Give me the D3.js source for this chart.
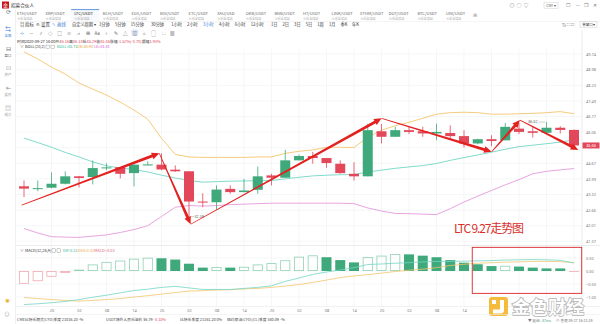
<!DOCTYPE html>
<html><head><meta charset="utf-8">
<script src="https://cdn.jsdelivr.net/npm/d3@7"></script>
<style>
html,body{margin:0;padding:0;background:#fff;overflow:hidden}
svg{display:block;font-family:"Noto Sans CJK SC","Noto Sans",sans-serif}
</style></head><body>
<svg id="chart" width="600" height="324"></svg>
<script>
// ---- LTC/USDT 3h candles, 2020-09-22 14:00 .. 2020-09-27 14:00 ----
const hours = ["14","17","20","23","02","05","08","11","14","17","20","23","02","05","08","11",
  "14","17","20","23","02","05","08","11","14","17","20","23","02","05","08","11",
  "14","17","20","23","02","05","08","11","14"];
const open  = [43.67,43.55,43.61,43.78,44.10,44.07,44.46,44.50,44.24,44.60,44.61,44.39,44.32,43.02,42.99,43.56,
  43.42,43.52,44.14,44.04,44.80,44.99,44.90,44.65,44.21,44.10,46.10,45.85,46.15,46.10,46.00,46.02,
  45.88,45.55,45.74,45.69,46.22,46.10,46.03,46.26,46.16];
const high  = [43.92,43.92,44.27,44.32,44.12,44.80,44.67,44.50,44.62,44.76,45.11,44.58,44.32,43.37,43.71,43.71,
  43.99,44.53,44.21,45.27,45.05,45.17,44.90,44.80,44.72,46.45,46.43,46.30,46.30,46.30,46.45,46.37,
  46.15,45.76,45.92,46.48,46.47,46.30,46.52,46.33,46.18];
const low   = [43.21,43.46,43.58,43.75,43.62,43.75,44.36,44.01,43.67,44.58,44.36,44.29,42.39,42.78,42.67,43.35,
  43.42,43.35,43.71,44.04,44.80,44.65,44.47,44.21,43.92,44.10,45.55,45.85,45.97,45.85,45.69,45.72,
  45.37,45.51,45.42,45.69,45.97,45.81,46.00,46.00,45.29];
const close = [43.57,43.59,43.78,44.10,44.03,44.46,44.49,44.21,44.61,44.62,44.40,44.32,43.02,42.98,43.53,43.42,
  43.49,44.10,44.04,44.80,44.99,44.90,44.68,44.24,44.10,46.15,45.85,46.15,46.07,46.00,46.07,45.88,
  45.55,45.74,45.66,46.30,46.07,46.03,46.26,46.16,45.46];

// BOLL(20,2)
const bollUp  = [49.84,49.50,49.10,48.77,48.34,48.05,47.77,47.44,47.07,46.65,45.78,45.06,44.95,44.93,44.93,44.93,
  44.93,44.95,44.95,45.11,45.20,45.26,45.38,45.38,45.37,45.83,46.15,46.35,46.51,46.69,46.88,46.95,
  46.97,46.95,46.88,46.88,46.90,46.92,46.95,47.00,46.90];
const bollMid = [45.79,45.59,45.38,45.15,44.95,44.73,44.56,44.46,44.40,44.29,44.15,44.03,43.92,43.85,43.87,43.89,
  43.90,43.91,43.92,43.99,44.06,44.12,44.15,44.17,44.18,44.29,44.37,44.45,44.51,44.57,44.66,44.80,
  44.92,45.04,45.16,45.29,45.41,45.47,45.54,45.61,45.71];
const bollLow = [41.89,41.71,41.56,41.54,41.53,41.58,41.63,41.73,41.85,42.01,42.39,42.78,42.85,42.83,42.85,42.89,
  42.91,42.93,42.95,42.95,42.95,42.95,42.95,42.95,42.93,42.75,42.62,42.52,42.51,42.49,42.47,42.72,
  43.00,43.25,43.49,43.73,43.96,44.21,44.32,44.38,44.44];

// MACD(12,26,9)
const dif  = [-1.29,-1.26,-1.22,-1.17,-1.10,-1.01,-0.93,-0.84,-0.75,-0.70,-0.63,-0.59,-0.65,-0.71,-0.71,-0.71,
  -0.67,-0.63,-0.57,-0.40,-0.27,-0.13,-0.04,0.04,0.13,0.25,0.27,0.30,0.32,0.35,0.37,0.37,
  0.38,0.39,0.40,0.42,0.43,0.44,0.43,0.41,0.31];
const dea  = [-1.02,-1.06,-1.10,-1.13,-1.16,-1.13,-1.10,-1.06,-1.00,-0.95,-0.89,-0.83,-0.77,-0.76,-0.73,-0.72,
  -0.69,-0.67,-0.63,-0.58,-0.52,-0.44,-0.35,-0.25,-0.19,-0.14,-0.08,-0.02,0.03,0.07,0.13,0.21,
  0.26,0.30,0.32,0.34,0.35,0.37,0.37,0.36,0.32];
const macdHist = [-0.49,-0.39,-0.22,-0.07,0.05,0.25,0.35,0.40,0.47,0.51,0.49,0.44,0.28,0.13,0.15,0.13,
  0.16,0.25,0.30,0.41,0.55,0.60,0.53,0.42,0.33,0.53,0.59,0.65,0.64,0.59,0.53,0.42,
  0.32,0.26,0.19,0.20,0.17,0.13,0.10,0.10,-0.03];

const priceTicks = [49.74,48.98,48.23,47.49,46.77,46.06,45.36,44.67,43.99,43.32,42.66,42.01,41.37];
const macdTicks = [0.50,0.00,-0.50,-1.00];
// time labels every second candle; the last few sit under the watermark
const timeTickIdx = [2,4,6,8,10,12,14,16,18,20,22,24,26,28,30,32];

// hand-drawn trend arrows: [candle index, price]
const trendPoints = [[-0.17,42.87],[9.84,45.11],[12.12,42.07],[26.01,46.69],[34.01,45.18],[36.07,46.61],[40.31,45.26]];
// highlighted MACD region: candle index range and MACD value range
const boxRange = {i0:32.6, i1:40.56, v0:0.91, v1:-0.86};

const tabs = ["ETH/USDT","XRP/USDT","LTC/USDT","BCH/USDT","EOS/USDT","BSV/USDT","ETC/USDT","XAU/USD","OKB/USDT","BNB/USDT",
  "HT/USDT","LINK/USDT","ETHM/USDT","DOT/USDT","BTC/USDT","UNI/USDT"];
const periods = ["1分钟","5分钟","15分钟","30分钟","1小时","2小时","3小时","4小时","6小时","12小时","1日","2日","3日","5日","1周","1月","季K","年K"];
const activePeriod = "3小时";

// ---- colours ----
const UP = "#3fa97b", DOWN = "#e2475a", RED = "#e3211f";
const C_MID = "#72d6c4", C_UP = "#f4c56f", C_LOW = "#e49ade";

const svg = d3.select("#chart");
const L = 16, R = 582, MAIN_T = 49, MAIN_B = 245, MACD_B = 306;

const x = d3.scaleLinear().domain([0, 40]).range([24, 574]);
const y = d3.scaleLog().domain([41.37, 49.74]).range([241.3, 54]);
const ym = d3.scaleLinear().domain([-1, 1]).range([297, 245]);

function txt(g, px, py, s, size, fill, anchor) {
  return g.append("text").attr("x", px).attr("y", py).text(s)
    .attr("font-size", size).attr("fill", fill || "#333").attr("text-anchor", anchor || "start");
}

// ---- window chrome ----
const topBar = svg.append("g");
topBar.append("rect").attr("x", 2).attr("y", 1.5).attr("width", 7).attr("height", 7).attr("fill", "#c8161d");
txt(topBar, 5.5, 7, "金", 5, "#fff", "middle");
txt(topBar, 11, 7, "招募合伙人", 4.6, "#333");
[["◎",512],["○",519],["♡",526]].forEach(d => txt(topBar, d[1], 7, d[0], 5, "#888", "middle"));
topBar.append("rect").attr("x", 544).attr("y", 2.2).attr("width", 14).attr("height", 6).attr("fill", "none").attr("stroke", "#ccc").attr("stroke-width", 0.5);
txt(topBar, 551, 6.8, "CNY ▾", 3.6, "#555", "middle");
[["☐",568],["—",578],["❐",586],["✕",595]].forEach(d => txt(topBar, d[1], 7, d[0], 5, "#777", "middle"));

// tabs
const tabG = svg.append("g");
tabs.forEach((t, k) => {
  const tx = 17 + k * 28.6;
  const active = t === "LTC/USDT";
  if (active) {
    tabG.append("rect").attr("x", tx - 3).attr("y", 9.3).attr("width", 28).attr("height", 12).attr("fill", "#f7f9fc");
    tabG.append("line").attr("x1", tx - 3).attr("x2", tx + 25).attr("y1", 9.6).attr("y2", 9.6).attr("stroke", "#3a7bd5").attr("stroke-width", 0.8);
  }
  txt(tabG, tx, 15, t, 4.1, active ? "#222" : "#666");
  txt(tabG, tx, 19.5, "火币全球站", 3.1, "#aaa");
});
txt(tabG, 475, 16.5, "⊞", 5, "#999", "middle");
svg.append("line").attr("x1", 16).attr("x2", 600).attr("y1", 21.5).attr("y2", 21.5).attr("stroke", "#eee").attr("stroke-width", 0.6);

// period toolbar
const bar = svg.append("g");
txt(bar, 20, 25.5, "目", 4.4, "#555");
txt(bar, 25, 25.5, "指标", 4.4, "#333");
txt(bar, 36, 25.5, "⚙", 4.4, "#555");
txt(bar, 41, 25.5, "设置", 4.4, "#333");
txt(bar, 52, 25.5, "✎", 4.4, "#3a7bd5");
txt(bar, 57, 25.5, "画线", 4.4, "#3a7bd5");
txt(bar, 72, 25.5, "自定义周期 ▾", 4.2, "#333");
let px = 99;
periods.forEach(p => {
  const w = p.length * 4.3 + 3;
  txt(bar, px, 25.5, p, 4.2, p === activePeriod ? "#3a7bd5" : "#333");
  px += w;
});
txt(bar, 562, 25.5, "⇅  ⛶  ☐", 4.2, "#666");
bar.append("rect").attr("x", 580).attr("y", 21.8).attr("width", 17).attr("height", 5.4).attr("fill", "none").attr("stroke", "#ccc").attr("stroke-width", 0.5);
txt(bar, 588.5, 25.7, "单窗口▾", 3.5, "#444", "middle");

// drawing tools row
const tools = ["⊹","—","⫽","◇","□","≡","⩘","⊞","Aa","⌖","✎","△","▥","⌂","▢","⛶","▦"];
tools.forEach((t, k) => {
  const tx = 22 + k * 9.4;
  if (t === "▥") svg.append("rect").attr("x", tx - 3.4).attr("y", 29.6).attr("width", 6.8).attr("height", 6).attr("fill", "#dce8fb").attr("rx", 1);
  txt(svg, tx, 34.5, t, 4.6, t === "⊹" ? "#3a7bd5" : "#666", "middle");
});

// candle info header
const info = svg.append("g");
const last = 40;
let ix = 17;
const pct = ((close[last] - open[last]) / open[last] * 100).toFixed(2);
[["时间2020-09-27 14:00 ", "#333"], ["开", "#333"], [open[last].toFixed(2), DOWN], [" 高", "#333"], [high[last].toFixed(2), DOWN],
 [" 低", "#333"], [low[last].toFixed(2), DOWN], [" 收", "#333"], [close[last].toFixed(2), DOWN], [" 涨幅 ", "#333"],
 [pct + "%(" + (close[last] - open[last]).toFixed(2) + ")", DOWN], [" 振幅", "#333"], ["1.93%", DOWN]]
.forEach(d => { const t = txt(info, ix, 42.5, d[0], 3.9, d[1]); ix += t.node().getComputedTextLength(); });
txt(info, 20, 48.3, "∨", 3.8, "#666");
txt(info, 25, 48.3, "BOLL(20,2)", 3.9, "#333");
info.append("rect").attr("x", 46).attr("y", 45.1).attr("width", 3.6).attr("height", 3.6).attr("fill", "none").attr("stroke", "#888").attr("stroke-width", 0.4);
info.append("rect").attr("x", 51).attr("y", 45.1).attr("width", 3.6).attr("height", 3.6).attr("fill", "none").attr("stroke", "#888").attr("stroke-width", 0.4);
txt(info, 57, 48.3, "BOLL:" + bollMid[last].toFixed(2), 3.9, "#36b59b");
txt(info, 77, 48.3, "UB:" + bollUp[last].toFixed(2), 3.9, "#e8a93b");
txt(info, 94, 48.3, "LB:" + bollLow[last].toFixed(2), 3.9, "#d46fd0");

// left sidebar
const side = svg.append("g");
side.append("line").attr("x1", 15.5).attr("x2", 15.5).attr("y1", 9).attr("y2", 324).attr("stroke", "#e6e6e6").attr("stroke-width", 0.6);
[[14, "⟳", "#666", ""], [31, "⇆", "#3a7bd5", "全部"], [51, "⊟", "#666", "盘口"], [70, "⊡", "#999", "资产"], [90, "⇤", "#999", "委托"], [110, "▤", "#999", "成交"]]
.forEach(d => {
  txt(side, 8, d[0], d[1], 6, d[2], "middle");
  if (d[3]) txt(side, 8, d[0] + 6, d[3], 3.4, d[2], "middle");
});
txt(side, 7, 303, "✺", 5.5, "#e4b33a", "middle");
txt(side, 7, 316, "⊙", 5.5, "#999", "middle");

// ---- chart panes ----
const clip = svg.append("defs").append("clipPath").attr("id", "plot");
clip.append("rect").attr("x", L).attr("y", MAIN_T).attr("width", R - L).attr("height", MACD_B - MAIN_T);
const plot = svg.append("g").attr("clip-path", "url(#plot)");

// grid
const evenIdx = d3.range(2, 41, 2);
plot.append("g").selectAll("line").data(evenIdx).join("line")
  .attr("x1", d => x(d)).attr("x2", d => x(d)).attr("y1", MAIN_T).attr("y2", MACD_B)
  .attr("stroke", "#f1f2f4").attr("stroke-width", 0.7);
plot.append("g").selectAll("line").data(priceTicks).join("line")
  .attr("x1", L).attr("x2", R).attr("y1", d => y(d)).attr("y2", d => y(d))
  .attr("stroke", "#f1f2f4").attr("stroke-width", 0.7);
plot.append("g").selectAll("line").data(macdTicks).join("line")
  .attr("x1", L).attr("x2", R).attr("y1", d => ym(d)).attr("y2", d => ym(d))
  .attr("stroke", "#f1f2f4").attr("stroke-width", 0.7);

// pane separator
svg.append("line").attr("x1", L).attr("x2", 600).attr("y1", MAIN_B + 0.5).attr("y2", MAIN_B + 0.5).attr("stroke", "#e4e4e4").attr("stroke-width", 0.7);
svg.append("line").attr("x1", R).attr("x2", R).attr("y1", 30).attr("y2", MACD_B + 6).attr("stroke", "#e4e4e4").attr("stroke-width", 0.7);

// Bollinger bands
const idx = d3.range(open.length);
const lineOf = (arr, sc) => d3.line().x(i => x(i)).y(i => sc(arr[i]))(idx);
[[bollUp, C_UP], [bollMid, C_MID], [bollLow, C_LOW]].forEach(d =>
  plot.append("path").attr("d", lineOf(d[0], y)).attr("fill", "none").attr("stroke", d[1]).attr("stroke-width", 0.9));

// candles
const bw = 10;
const cg = plot.append("g").selectAll("g").data(idx).join("g");
cg.append("line").attr("x1", i => x(i)).attr("x2", i => x(i))
  .attr("y1", i => y(high[i])).attr("y2", i => y(low[i]))
  .attr("stroke", i => close[i] >= open[i] ? UP : DOWN).attr("stroke-width", 0.8);
cg.append("rect").attr("x", i => x(i) - bw / 2).attr("width", bw)
  .attr("y", i => y(Math.max(open[i], close[i])))
  .attr("height", i => Math.max(1, Math.abs(y(open[i]) - y(close[i]))))
  .attr("fill", i => close[i] >= open[i] ? UP : DOWN);

// high / low markers of the visible range
const hiI = d3.maxIndex(high), loI = d3.minIndex(low);
plot.append("line").attr("x1", x(hiI) - 8).attr("x2", x(hiI) - 1).attr("y1", y(high[hiI])).attr("y2", y(high[hiI])).attr("stroke", "#888").attr("stroke-width", 0.4);
txt(plot, x(hiI) - 9, y(high[hiI]) + 1.3, high[hiI].toFixed(2), 3.8, "#555", "end");
plot.append("line").attr("x1", x(loI) + 1).attr("x2", x(loI) + 5).attr("y1", y(low[loI])).attr("y2", y(low[loI])).attr("stroke", "#888").attr("stroke-width", 0.4);
txt(plot, x(loI) + 5.5, y(low[loI]) + 1.3, low[loI].toFixed(2), 3.8, "#555", "start");

// MACD histogram
const mg = plot.append("g");
idx.forEach(i => {
  const v = macdHist[i];
  const rising = i === 0 || v > macdHist[i - 1];
  const y0 = ym(0), y1 = ym(v);
  const top_ = Math.min(y0, y1), h = Math.max(0.8, Math.abs(y1 - y0));
  if (rising) {
    mg.append("rect").attr("x", x(i) - bw / 2 + 0.4).attr("y", top_ + 0.4).attr("width", bw - 0.8).attr("height", Math.max(0.4, h - 0.8))
      .attr("fill", "none").attr("stroke", v >= 0 ? "#8fd1b5" : "#f0a9b1").attr("stroke-width", 0.8);
  } else {
    mg.append("rect").attr("x", x(i) - bw / 2).attr("y", top_).attr("width", bw).attr("height", h)
      .attr("fill", v >= 0 ? UP : "#f1aab2");
  }
});
[[dea, C_UP], [dif, C_MID]].forEach(d =>
  plot.append("path").attr("d", lineOf(d[0], ym)).attr("fill", "none").attr("stroke", d[1]).attr("stroke-width", 0.8));

// MACD header
const mh = svg.append("g");
txt(mh, 20, 252, "∨", 3.8, "#666");
txt(mh, 25, 252, "MACD(12,26,9)", 3.9, "#333");
mh.append("rect").attr("x", 52).attr("y", 248.8).attr("width", 3.6).attr("height", 3.6).attr("fill", "none").attr("stroke", "#888").attr("stroke-width", 0.4);
mh.append("rect").attr("x", 57).attr("y", 248.8).attr("width", 3.6).attr("height", 3.6).attr("fill", "none").attr("stroke", "#888").attr("stroke-width", 0.4);
txt(mh, 63, 252, "DIF:" + dif[last].toFixed(2), 3.9, "#36b59b");
txt(mh, 78, 252, "DEA:" + dea[last].toFixed(2), 3.9, "#e8a93b");
txt(mh, 94, 252, "MACD:" + macdHist[last].toFixed(2), 3.9, "#e0607a");

// ---- axes ----
const lp = close[last];
// the last-price tag covers any price label right next to it
const shownPriceTicks = priceTicks.filter(v => Math.abs(y(v) - y(lp)) > 4.5);
const ay = svg.append("g").attr("transform", `translate(${R},0)`)
  .call(d3.axisRight(y).tickValues(shownPriceTicks).tickFormat(d3.format(".2f")).tickSize(0).tickPadding(4));
const aym = svg.append("g").attr("transform", `translate(${R},0)`)
  .call(d3.axisRight(ym).tickValues(macdTicks).tickFormat(d3.format(".2f")).tickSize(0).tickPadding(4));
const ax = svg.append("g").attr("transform", `translate(0,${MACD_B})`)
  .call(d3.axisBottom(x).tickValues(timeTickIdx).tickFormat(i => hours[i]).tickSize(0).tickPadding(3));
[ay, aym, ax].forEach(a => {
  a.select(".domain").remove();
  a.selectAll("text").attr("font-size", 3.9).attr("fill", "#777").attr("font-family", "Noto Sans, sans-serif");
});
svg.append("line").attr("x1", L).attr("x2", 600).attr("y1", MACD_B + 0.5).attr("y2", MACD_B + 0.5).attr("stroke", "#e8e8e8").attr("stroke-width", 0.6);

// last price tag
svg.append("rect").attr("x", R + 0.5).attr("y", y(lp) - 3).attr("width", 17).attr("height", 6).attr("fill", DOWN);
txt(svg, R + 9, y(lp) + 1.4, lp.toFixed(2), 3.9, "#fff", "middle");

// ---- trend arrows ----
const arrows = svg.append("g").attr("clip-path", "url(#plot)");
for (let k = 0; k < trendPoints.length - 1; k++) {
  const [i0, p0] = trendPoints[k], [i1, p1] = trendPoints[k + 1];
  const x0 = x(i0), y0 = y(p0), x1 = x(i1), y1 = y(p1);
  const dx = x1 - x0, dy = y1 - y0, len = Math.hypot(dx, dy);
  const ux = dx / len, uy = dy / len, nx = -uy, ny = ux;
  const head = 7.5, hw = 3.4, w0 = 0.35, w1 = 1.45;
  const bx = x1 - ux * head, by = y1 - uy * head;
  const pts = [[x0 + nx * w0, y0 + ny * w0], [bx + nx * w1, by + ny * w1], [bx + nx * hw, by + ny * hw], [x1, y1],
    [bx - nx * hw, by - ny * hw], [bx - nx * w1, by - ny * w1], [x0 - nx * w0, y0 - ny * w0]];
  arrows.append("path").attr("d", "M" + pts.map(p => p.join(",")).join("L") + "Z").attr("fill", RED);
}

// highlight box over the MACD pane
svg.append("rect").attr("x", x(boxRange.i0)).attr("y", ym(boxRange.v0))
  .attr("width", x(boxRange.i1) - x(boxRange.i0)).attr("height", ym(boxRange.v1) - ym(boxRange.v0))
  .attr("fill", "none").attr("stroke", "#d9262a").attr("stroke-width", 0.9);

// caption
txt(svg, 454, 232.5, "LTC 9.27走势图", 12, "#d9302c").attr("textLength", 70);

// ---- watermark ----
const wm = svg.append("g").attr("opacity", 0.85);
wm.append("rect").attr("x", 489).attr("y", 297).attr("width", 19).attr("height", 19).attr("rx", 3).attr("fill", "#f3b01c");
wm.append("path").attr("d", "M500,300 L504,300 L504,310.5 Q504,313.5 500,313.5 L493,313.5 L493,309.5 L500,309.5 Z").attr("fill", "#fff");
wm.append("rect").attr("x", 492).attr("y", 300).attr("width", 4).attr("height", 4).attr("fill", "#fff");
txt(wm, 512, 314, "金色财经", 18, "#fff").attr("stroke", "#a8a8a8").attr("stroke-width", 1.6).attr("paint-order", "stroke").attr("font-weight", 700);

// ---- status bar ----
const sb = svg.append("g");
svg.append("line").attr("x1", 16).attr("x2", 600).attr("y1", 314.5).attr("y2", 314.5).attr("stroke", "#ececec").attr("stroke-width", 0.6);
let sx = 0;
[["CME比特币期货(CFD)季度  21016.20  -%", 17, "#444"], ["USDT场外人民币溢价  ¥6.79 ", 106, "#444"], ["-0.15%", null, DOWN],
 ["比特币季度  21161.20  0%", 180, "#444"], ["纽约原油(CFD)(CL)季度  540.09  -%", 227, "#444"]]
.forEach(d => {
  const t = txt(sb, d[1] === null ? sx + 1 : d[1], 320.5, d[0], 3.8, d[2]);
  sx = +t.attr("x") + t.node().getComputedTextLength();
});
txt(sb, 528, 321.5, "▼ 延迟:", 3.6, "#777");
txt(sb, 542, 321.5, "87ms", 3.6, UP);
txt(sb, 556, 321.5, "⊙ 香港 09-27 16:11:29", 3.6, "#777");
</script>
</body></html>
